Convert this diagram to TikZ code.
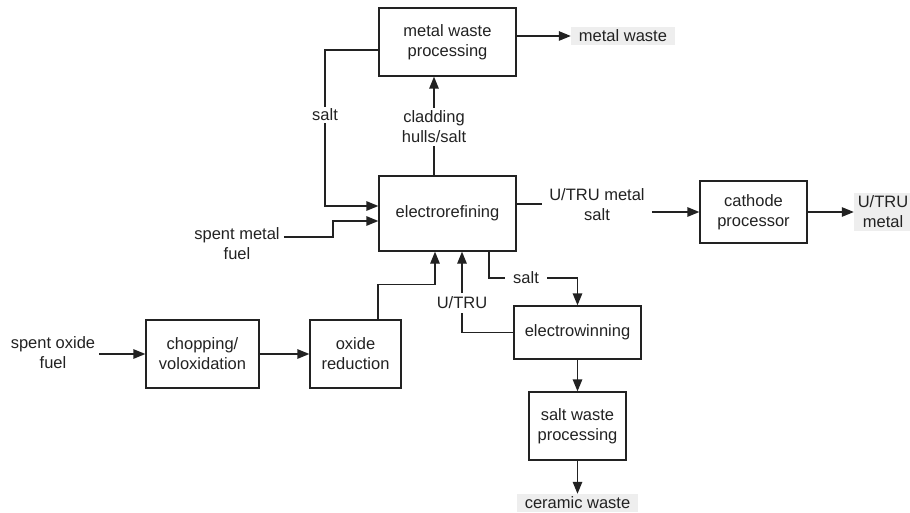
\documentclass[tikz,border=0pt]{standalone}
\usepackage{fontspec}
\setmainfont{Liberation Sans}
\usetikzlibrary{arrows.meta,calc}
\definecolor{ink}{HTML}{222222}
\definecolor{tag}{HTML}{EEEEEE}
\tikzset{
  x=1pt, y=-1pt,
  every node/.style={font=\fontsize{16.5}{20}\selectfont, text=ink, align=center},
  proc/.style={draw=ink, line width=1.3pt, inner sep=0pt},
  lbl/.style={inner sep=4pt},
  product/.style={fill=tag, inner sep=0pt, minimum height=18pt},
  wire/.style={draw=ink, line width=1.3pt},
  arr/.style={wire, -{Triangle[length=12pt,width=9.5pt]}}
}
\begin{document}
\begin{tikzpicture}
\useasboundingbox (0,0) rectangle (910,513);

% process blocks
\node[proc, minimum width=137pt, minimum height=68pt] (mwp) at (447.5,42) {metal waste\\processing};
\node[proc, minimum width=137pt, minimum height=75pt] (er) at (447.5,213.5) {electrorefining};
\node[proc, minimum width=107pt, minimum height=62pt] (cp) at (753.5,212) {cathode\\processor};
\node[proc, minimum width=113pt, minimum height=68pt] (ch) at (202.5,354) {chopping/\\voloxidation};
\node[proc, minimum width=91pt, minimum height=68pt] (ox) at (355.5,354) {oxide\\reduction};
\node[proc, minimum width=127pt, minimum height=53pt] (ew) at (577.5,332.5) {electrowinning};
\node[proc, minimum width=97pt, minimum height=68pt] (sw) at (577.5,426) {salt waste\\processing};

% products
\node[product, minimum width=104pt] (mw) at (623,36) {metal waste};
\node[product, minimum width=121pt] (cw) at (577.5,503) {ceramic waste};
\node[product, minimum width=58pt, minimum height=38pt] (um) at (883,212) {U/TRU\\metal};

% stream labels
\node[inner sep=2pt] (salta) at (325,115) {salt};
\node[inner sep=3pt] (clad) at (434,127) {cladding\\hulls/salt};
\node[lbl] (smf) at (237,244) {spent metal\\fuel};
\node[lbl] (sof) at (53,353) {spent oxide\\fuel};
\node[inner sep=7pt] (utms) at (597,205) {U/TRU metal\\salt};
\node[inner sep=8pt] (saltb) at (526,278) {salt};
\node[inner sep=4pt] (utru) at (462,303) {U/TRU};

% connectors
\draw[arr] (mwp.east |- mw) -- (mw.west);
\draw[wire] ($(mwp.west)+(0,8)$) -| (salta.north);
\draw[arr] (salta.south) |- ($(er.west)+(0,-7.5)$);
\draw[wire] ($(er.north)+(-13.5,0)$) -- (clad.south);
\draw[arr] (clad.north) -- (clad.north |- mwp.south);
\coordinate (kink) at (333,237);
\draw[arr] (smf.east |- kink) -- (kink) |- ($(er.west)+(0,7.5)$);
\draw[arr] (sof.east |- ch) -- (ch.west);
\draw[arr] (ch) -- (ox);
\draw[arr] ($(ox.north)+(22.5,0)$) -- ++(0,-35) -| ($(er.south)+(-12.5,0)$);
\draw[wire] (ew.west) -| (utru.south);
\draw[arr] (utru.north) -- (utru.north |- er.south);
\draw[wire] ($(er.south)+(41.5,0)$) |- (saltb.west);
\draw[arr] (saltb.east) -| (ew.north);
\draw[wire] (er.east |- 0,204) -- (utms.west |- 0,204);
\draw[arr] (utms.east |- cp) -- (cp.west);
\draw[arr] (cp) -- (um.west);
\draw[arr] (ew) -- (sw);
\draw[arr] (sw) -- (cw.north);
\end{tikzpicture}
\end{document}
